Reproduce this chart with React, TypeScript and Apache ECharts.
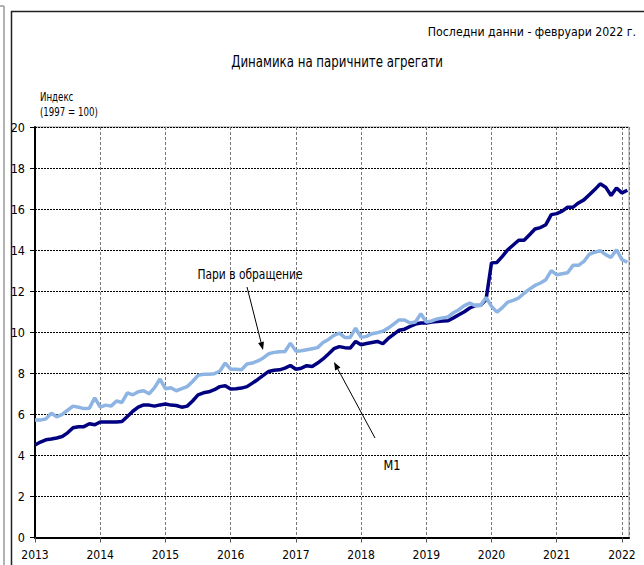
import React, { useEffect, useRef } from "react";
import * as echarts from "echarts";

// Monthly index values, Jan 2013 – Feb 2022 (1997 = 100, shown in hundreds)
const startYear = 2013;
const yearTicks = ["2013", "2014", "2015", "2016", "2017", "2018", "2019", "2020", "2021", "2022"];

const currencyInCirculation = [
  5.72, 5.72, 5.78, 6.05, 5.88, 6.0, 6.2, 6.4, 6.35, 6.28, 6.3, 6.8,
  6.35, 6.45, 6.4, 6.65, 6.58, 7.05, 6.95, 7.1, 7.15, 7.0, 7.3, 7.72,
  7.25, 7.3, 7.15, 7.25, 7.35, 7.6, 7.9, 7.95, 7.95, 7.98, 8.1, 8.5,
  8.2, 8.2, 8.17, 8.45, 8.5, 8.6, 8.75, 8.95, 9.02, 9.05, 9.06, 9.47,
  9.08, 9.1, 9.15, 9.2, 9.25, 9.5, 9.65, 9.85, 9.96, 9.75, 9.75, 10.2,
  9.75, 9.8, 9.93, 9.98, 10.05, 10.2, 10.4, 10.6, 10.6, 10.45, 10.5, 10.9,
  10.5, 10.55, 10.65, 10.7, 10.75, 10.95, 11.1, 11.3, 11.42, 11.3, 11.3, 11.7,
  11.26, 10.98, 11.2, 11.47, 11.55, 11.67, 11.9, 12.1, 12.28, 12.4, 12.56, 13.0,
  12.8, 12.85, 12.9, 13.26, 13.26, 13.45, 13.8, 13.9, 13.98, 13.78, 13.65, 14.02,
  13.54, 13.41,
];

const m1 = [
  4.51, 4.65, 4.76, 4.8, 4.85, 4.92, 5.1, 5.35, 5.4, 5.4, 5.54, 5.49,
  5.63, 5.63, 5.63, 5.63, 5.65, 5.9, 6.15, 6.35, 6.46, 6.45, 6.4, 6.46,
  6.5, 6.45, 6.43, 6.35, 6.4, 6.65, 6.95, 7.05, 7.1, 7.2, 7.35, 7.39,
  7.23, 7.25, 7.28, 7.35, 7.52, 7.7, 7.9, 8.09, 8.15, 8.17, 8.25, 8.38,
  8.2, 8.25, 8.37, 8.33, 8.5, 8.7, 8.94, 9.2, 9.3, 9.25, 9.23, 9.55,
  9.39, 9.45, 9.5, 9.55, 9.44, 9.7, 9.9, 10.1, 10.15, 10.28, 10.4, 10.45,
  10.45, 10.5, 10.52, 10.55, 10.56, 10.7, 10.85, 11.0, 11.18, 11.3, 11.31, 11.59,
  13.38, 13.4, 13.7, 14.02, 14.25, 14.48, 14.48, 14.75, 15.03, 15.1, 15.24, 15.73,
  15.78, 15.9, 16.09, 16.09, 16.3, 16.45, 16.7, 16.95, 17.23, 17.07, 16.66, 17.03,
  16.79, 16.92,
];

const FONT = "'Liberation Sans Narrow', 'DejaVu Sans Condensed', 'Arial Narrow', sans-serif";

function arrow(x1: number, y1: number, x2: number, y2: number) {
  const ang = Math.atan2(y2 - y1, x2 - x1);
  const len = 8;
  const hw = 3;
  const bx = x2 - len * Math.cos(ang);
  const by = y2 - len * Math.sin(ang);
  const px = -Math.sin(ang) * hw;
  const py = Math.cos(ang) * hw;
  return [
    {
      type: "line",
      shape: { x1, y1, x2: bx, y2: by },
      style: { stroke: "#000", lineWidth: 1 },
      z: 100,
    },
    {
      type: "polygon",
      shape: { points: [[x2, y2], [bx + px, by + py], [bx - px, by - py]] },
      style: { fill: "#000" },
      z: 100,
    },
  ];
}

function label(text: string, x: number, y: number, size: number, sx: number, align: string) {
  return {
    type: "text",
    x,
    y,
    scaleX: sx,
    z: 100,
    style: {
      text,
      fontFamily: FONT,
      fontSize: size,
      fill: "#000",
      textAlign: align,
      textVerticalAlign: "middle",
    },
  };
}

export default function App() {
  const ref = useRef<HTMLDivElement>(null);
  useEffect(() => {
    if (!ref.current) return;
    const chart = echarts.init(ref.current, undefined, { renderer: "svg" });
    const option = {
      animation: false,
      backgroundColor: "#fff",
      grid: {
        left: 35,
        top: 127,
        right: 15,
        bottom: 27.5,
        show: true,
        borderColor: "#999",
        borderWidth: 1,
        containLabel: false,
      },
      xAxis: {
        type: "value",
        min: 0,
        max: 109.3,
        interval: 12,
        axisLine: { show: true, lineStyle: { color: "#000", width: 2 } },
        axisTick: { show: true, length: 5, lineStyle: { color: "#555" } },
        axisLabel: {
          margin: 11,
          fontFamily: FONT,
          fontSize: 12,
          color: "#000",
          showMaxLabel: false,
          formatter: (v: number) => {
            const idx = Math.round(v / 12);
            return Math.abs(v - idx * 12) < 1e-6 ? yearTicks[idx] ?? String(startYear + idx) : "";
          },
        },
        splitLine: { show: true, lineStyle: { color: "#777", type: [3, 2], width: 1 } },
      },
      yAxis: {
        type: "value",
        min: 0,
        max: 20,
        interval: 2,
        axisLine: { show: true, lineStyle: { color: "#000", width: 2 } },
        axisTick: { show: true, length: 5, lineStyle: { color: "#000" } },
        axisLabel: { margin: 10, fontFamily: FONT, fontSize: 12.5, color: "#000" },
        splitLine: { show: true, lineStyle: { color: "#000", type: [2, 1], width: 1 } },
      },
      series: [
        {
          name: "M1",
          type: "line",
          data: m1.map((v, i) => [i, v]),
          showSymbol: false,
          lineStyle: { color: "#000080", width: 3.5 },
          z: 3,
        },
        {
          name: "Пари в обращение",
          type: "line",
          data: currencyInCirculation.map((v, i) => [i, v]),
          showSymbol: false,
          lineStyle: { color: "#8DB4E2", width: 3.5 },
          z: 4,
        },
      ],
      graphic: [
        { type: "line", shape: { x1: 4, y1: 6, x2: 4, y2: 565 }, style: { stroke: "#999", lineWidth: 1.5 } },
        { type: "line", shape: { x1: 0, y1: 6, x2: 4, y2: 6 }, style: { stroke: "#999", lineWidth: 1.5 } },
        { type: "line", shape: { x1: 11.5, y1: 11, x2: 11.5, y2: 565 }, style: { stroke: "#222", lineWidth: 1.5 } },
        { type: "line", shape: { x1: 11, y1: 11.5, x2: 644, y2: 11.5 }, style: { stroke: "#222", lineWidth: 1.5 } },
        label("Последни данни - февруари 2022 г.", 636, 31, 13, 0.94, "right"),
        label("Динамика на паричните агрегати", 337, 61, 16, 0.82, "center"),
        label("Индекс", 40, 97, 12, 0.8, "left"),
        label("(1997 = 100)", 40, 112, 12, 0.8, "left"),
        label("Пари в обращение", 250, 274, 14, 0.85, "center"),
        ...arrow(247, 287, 263, 350),
        label("M1", 392, 465, 14, 0.9, "center"),
        ...arrow(375, 438, 334, 362),
      ],
    };
    chart.setOption(option as any);
    return () => chart.dispose();
  }, []);
  return (
    <div
      ref={ref}
      style={{ position: "absolute", left: 0, top: 0, width: 644, height: 565 }}
    />
  );
}
